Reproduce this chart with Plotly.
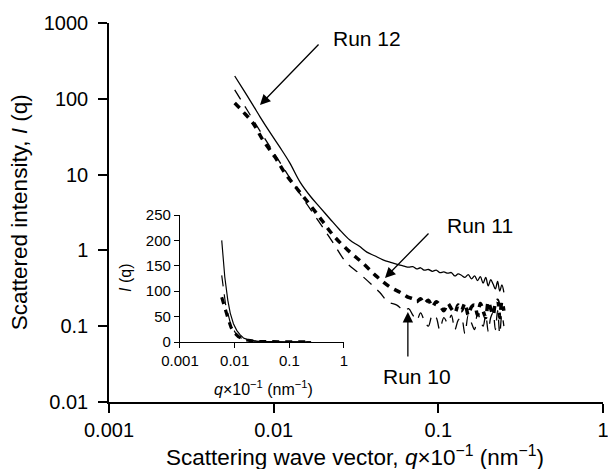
import plotly.graph_objects as go

# %%
# values (q x 10^-1 in nm^-1, intensity I(q))
run12_q = [0.0058, 0.0066, 0.0075, 0.0083, 0.0095, 0.0109, 0.0125, 0.0145, 0.0168,
           0.0191, 0.022, 0.025, 0.029, 0.033, 0.0368, 0.041, 0.0461, 0.052, 0.0585]
run12_i = [200, 128, 82, 57, 36, 23, 14.4, 7.9, 5.1,
           3.7, 2.6, 1.9, 1.37, 1.14, 0.95, 0.85, 0.75, 0.69, 0.64]

run11_q = [0.0058, 0.0065, 0.00748, 0.0086, 0.0102, 0.0117, 0.0138, 0.0166, 0.0196,
           0.0229, 0.0283, 0.0348, 0.0424, 0.0508, 0.0585]
run11_i = [88, 68, 48, 28.6, 17, 10.5, 6.6, 4.0, 2.5,
           1.6, 1.0, 0.68, 0.45, 0.33, 0.28]

run10_q = [0.0058, 0.0068, 0.0085, 0.0105, 0.0135, 0.016, 0.0196, 0.023, 0.0275,
           0.033, 0.039, 0.044, 0.0494, 0.056]
run10_i = [131, 75, 34, 16.6, 7, 4, 2.1, 1.25, 0.70,
           0.50, 0.36, 0.28, 0.21, 0.19]

# noisy high-q tails
tail_q = [0.062, 0.066, 0.07, 0.074, 0.078, 0.082, 0.087, 0.092, 0.097, 0.102, 0.108,
          0.114, 0.12, 0.126, 0.132, 0.138, 0.145, 0.152, 0.159, 0.166, 0.173, 0.18,
          0.187, 0.194, 0.201, 0.208, 0.215, 0.222, 0.229, 0.236, 0.243, 0.25]
tail12_i = [0.62, 0.6, 0.61, 0.57, 0.59, 0.55, 0.56, 0.53, 0.55, 0.51, 0.52,
            0.5, 0.51, 0.46, 0.49, 0.47, 0.44, 0.48, 0.42, 0.46, 0.4, 0.45,
            0.37, 0.44, 0.34, 0.41, 0.36, 0.31, 0.39, 0.29, 0.35, 0.28]
tail11_i = [0.26, 0.24, 0.23, 0.21, 0.23, 0.2, 0.22, 0.18, 0.21, 0.19, 0.16,
            0.2, 0.17, 0.15, 0.19, 0.16, 0.2, 0.14, 0.18, 0.19, 0.14, 0.2,
            0.16, 0.13, 0.21, 0.17, 0.14, 0.2, 0.22, 0.13, 0.21, 0.16]
tail10_i = [0.16, 0.17, 0.14, 0.12, 0.15, 0.12, 0.1, 0.14, 0.13, 0.09, 0.13,
            0.11, 0.14, 0.09, 0.12, 0.13, 0.08, 0.14, 0.11, 0.09, 0.15, 0.12,
            0.1, 0.14, 0.085, 0.13, 0.15, 0.09, 0.16, 0.08, 0.14, 0.1]

x_ticks = [0.001, 0.01, 0.1, 1]
x_labels = ['0.001', '0.01', '0.1', '1']
y_ticks = [0.01, 0.1, 1, 10, 100, 1000]
y_labels = ['0.01', '0.1', '1', '10', '100', '1000']
inset_y_ticks = [0, 50, 100, 150, 200, 250]

# %%
font = 'Liberation Sans, Arial, sans-serif'
styles = {
    'Run 12': dict(color='black', width=1.3),
    'Run 11': dict(color='black', width=3.5, dash='7px,6px'),
    'Run 10': dict(color='black', width=1.3, dash='11px,8px'),
}
series = [
    ('Run 12', run12_q + tail_q, run12_i + tail12_i),
    ('Run 11', run11_q + tail_q, run11_i + tail11_i),
    ('Run 10', run10_q + tail_q, run10_i + tail10_i),
]

fig = go.Figure()
for name, q, i in series:
    fig.add_trace(go.Scatter(x=q, y=i, mode='lines', name=name, line=styles[name],
                             line_shape='spline', xaxis='x', yaxis='y'))
    # inset with linear intensity
    fig.add_trace(go.Scatter(x=q, y=i, mode='lines', name=name,
                             line=dict(styles[name], width=styles[name]['width'] * 0.9),
                             xaxis='x2', yaxis='y2'))

axis_common = dict(showgrid=False, zeroline=False, showline=True, linecolor='black',
                   ticks='outside', tickcolor='black', automargin=False,
                   ticklabeloverflow='allow')

fig.update_layout(
    width=608, height=469,
    template='none',
    paper_bgcolor='white', plot_bgcolor='rgba(0,0,0,0)',
    margin=dict(l=109, r=5, t=23, b=67),
    showlegend=False,
    font=dict(family=font, color='black'),
    xaxis=dict(axis_common, type='log', range=[-3, 0], domain=[0, 1],
               tickvals=x_ticks, ticktext=x_labels, ticklen=9, tickwidth=1.5,
               linewidth=1.5, tickfont=dict(size=20), anchor='y'),
    yaxis=dict(axis_common, type='log', range=[-2, 3], domain=[0, 1],
               tickvals=y_ticks, ticktext=y_labels, ticklen=9, tickwidth=1.5,
               linewidth=1.5, tickfont=dict(size=20), ticklabelstandoff=6, anchor='x'),
    xaxis2=dict(axis_common, type='log', range=[-3, 0], domain=[0.1437, 0.4757],
                tickvals=x_ticks, ticktext=x_labels, ticklen=5, tickwidth=1.2,
                linewidth=1.2, tickfont=dict(size=15), anchor='y2'),
    yaxis2=dict(axis_common, range=[0, 250], domain=[0.1583, 0.4934],
                tickvals=inset_y_ticks, ticklen=5, tickwidth=1.2,
                linewidth=1.2, tickfont=dict(size=15), anchor='x2'),
)

# axis titles
titles = [
    ('Scattering wave vector, <i>q</i>×10<sup>−1</sup> (nm<sup>−1</sup>)', 0.498, -0.1425, 0, 22.5),
    ('Scattered intensity, <i>I</i> (q)', -0.182, 0.501, -90, 22.5),
    ('<i>q</i>×10<sup>−1</sup> (nm<sup>−1</sup>)', 0.312, 0.037, 0, 16),
    ('<i>I</i> (q)', 0.032, 0.327, -90, 16),
]
for text, x, y, angle, size in titles:
    fig.add_annotation(text=text, x=x, y=y, xref='paper', yref='paper', showarrow=False,
                       textangle=angle, font=dict(size=size), xanchor='center', yanchor='middle')

# run labels and arrows (tips in log10 data units)
arrows = [
    (-2.083, 1.918, 60, -62),
    (-1.324, -0.364, 45, -46),
    (-1.185, -0.813, 0, 46),
]
for x, y, ax, ay in arrows:
    fig.add_annotation(x=x, y=y, xref='x', yref='y', text='', showarrow=True,
                       ax=ax, ay=ay, arrowhead=2, arrowsize=1.6, arrowwidth=1.3,
                       arrowcolor='black')

labels = [('Run 12', 0.522, 0.960), ('Run 11', 0.751, 0.467), ('Run 10', 0.623, 0.066)]
for text, x, y in labels:
    fig.add_annotation(text=text, x=x, y=y, xref='paper', yref='paper', showarrow=False,
                       font=dict(size=21), xanchor='center', yanchor='middle')

# drop the default 8px body margin so the figure fills the window exactly
fig.write_html('out.html', config={'displayModeBar': False},
               post_script="document.body.style.margin='0';")
